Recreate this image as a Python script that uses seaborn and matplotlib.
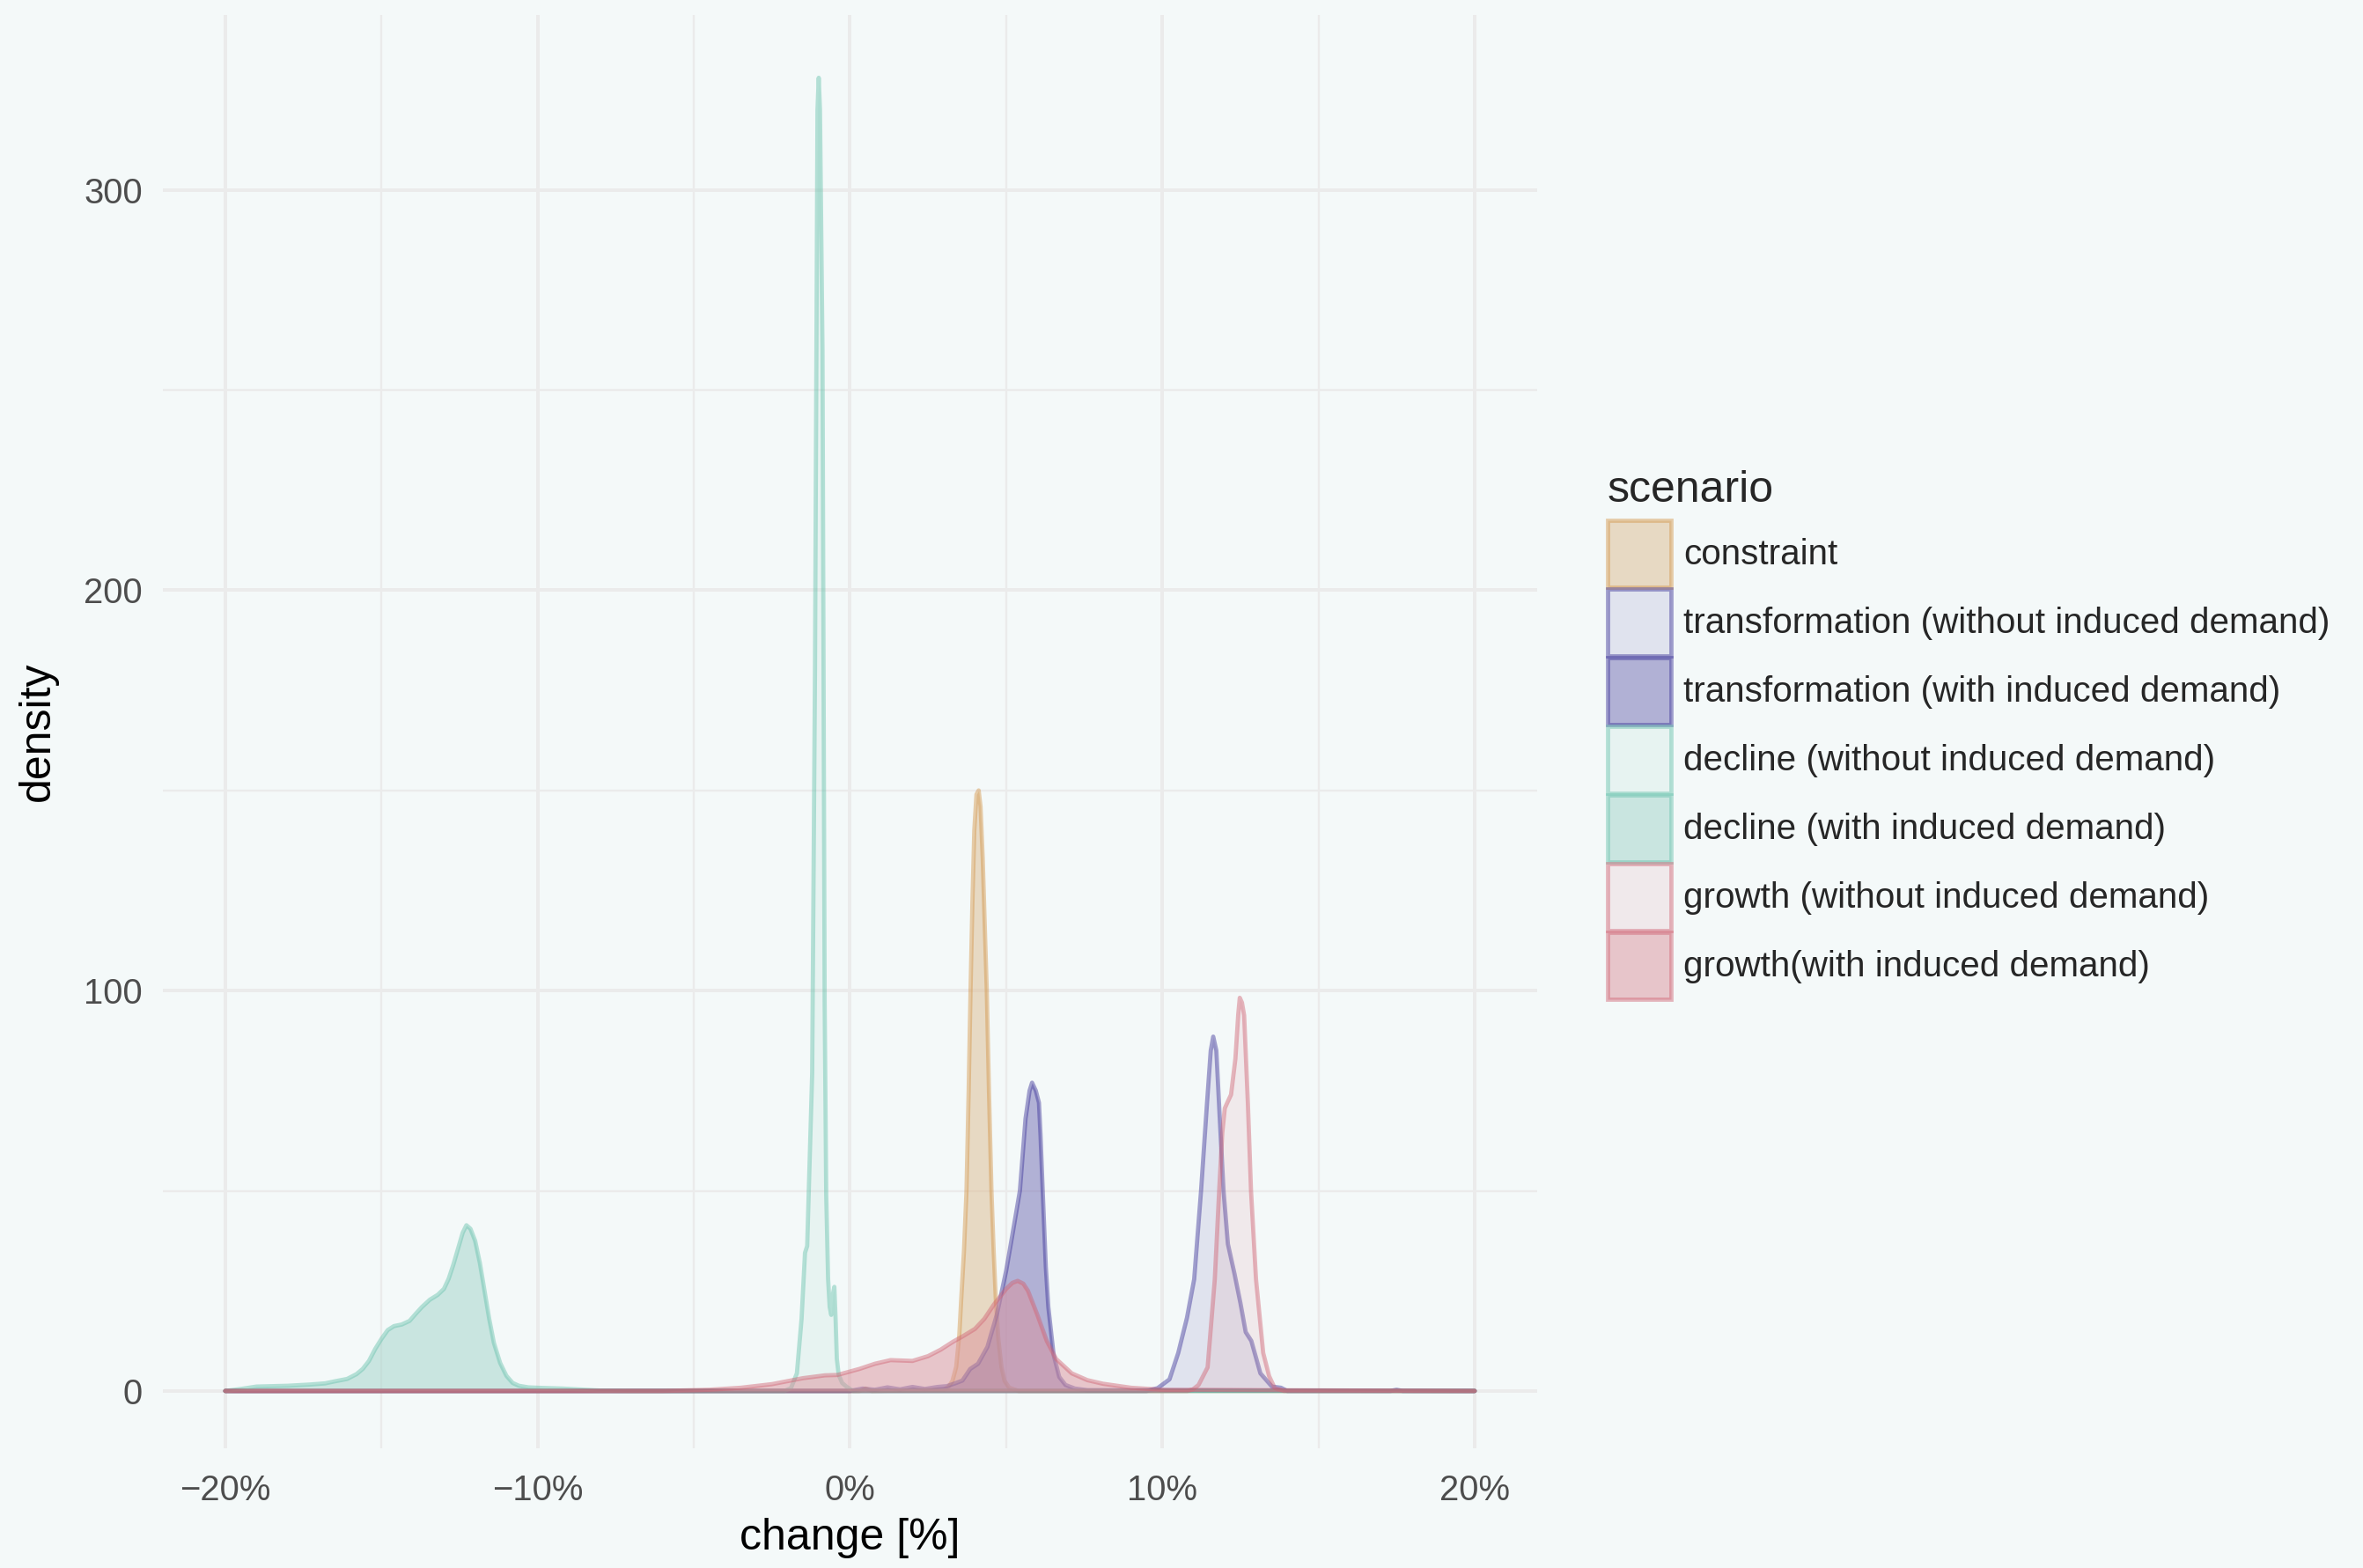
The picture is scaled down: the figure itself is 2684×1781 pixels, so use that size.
import numpy as np
import pandas as pd
import matplotlib
matplotlib.use("Agg")
import matplotlib.pyplot as plt
from matplotlib.patches import Patch
from matplotlib.colors import to_rgba
from matplotlib.ticker import MultipleLocator, FuncFormatter
import seaborn as sns

# --- data (change in %, density) ---
scenarios = [
    "constraint",
    "transformation (without induced demand)",
    "transformation (with induced demand)",
    "decline (without induced demand)",
    "decline (with induced demand)",
    "growth (without induced demand)",
    "growth(with induced demand)",
]

constraint_x = [-20, 0.3, 0.5, 0.7, 3.0, 3.15, 3.28, 3.4, 3.5, 3.56, 3.65, 3.73, 3.8, 3.86, 3.92, 3.98, 4.05, 4.12, 4.18, 4.25,
                4.32, 4.38, 4.45, 4.53, 4.6, 4.67, 4.75, 4.85, 4.95, 5.1, 5.4, 20]
constraint_y = [0, 0, 0.6, 0, 0.3, 1.0, 2.5, 6, 14, 22.7, 35, 50, 75, 100, 122, 140, 149, 150, 146, 133,
                115, 100, 75, 50, 35, 22.7, 13, 6, 2.5, 0.8, 0, 0]

trans_wo_x = [-20, 9.5, 9.85, 10.23, 10.51, 10.79, 11.02, 11.24, 11.43, 11.55, 11.63, 11.73, 11.84, 11.96, 12.1, 12.31,
              12.5, 12.67, 12.85, 13.14, 13.51, 13.8, 14.0, 17.3, 17.5, 17.7, 20]
trans_wo_y = [0, 0, 0.7, 2.9, 9.5, 18.3, 27.9, 50, 71.8, 85, 88.5, 85, 68, 50, 36.7, 29.3,
              22, 14.7, 12.5, 4.4, 1.1, 0.8, 0, 0, 0.3, 0, 0]

trans_w_x = [-20, 0.0, 0.4, 0.8, 1.2, 1.6, 2.0, 2.4, 2.8, 3.1, 3.4, 3.6, 3.85, 4.1, 4.4, 4.7, 5.0, 5.2, 5.44, 5.62, 5.75,
             5.83, 5.95, 6.05, 6.1, 6.17, 6.27, 6.35, 6.52, 6.7, 6.9, 7.2, 7.6, 20]
trans_w_y = [0, 0, 0.6, 0.3, 0.9, 0.4, 1.0, 0.5, 1.0, 1.2, 2.0, 2.6, 5.5, 6.8, 11, 19, 30, 39, 50, 68, 75,
             77, 75, 72, 64, 50, 31, 21, 9, 3.5, 1.5, 0.6, 0.2, 0]

decline_wo_x = [-20, -2.1, -1.89, -1.70, -1.55, -1.44, -1.37, -1.30, -1.21, -1.12, -1.04, -1.0, -0.96, -0.88, -0.81, -0.76,
                -0.70, -0.65, -0.60, -0.55, -0.50, -0.46, -0.42, -0.36, -0.25, -0.1, 0.1, 20]
decline_wo_y = [0, 0, 0.7, 4.4, 18, 34.5, 36.2, 55, 79.4, 180, 320, 328, 320, 260, 97, 49,
                28, 21, 19, 24, 26, 18, 8, 4, 2, 1, 0, 0]

decline_w_x = [-20, -19.5, -19.0, -18.0, -17.3, -16.8, -16.5, -16.1, -15.8, -15.6, -15.4, -15.2, -15.0, -14.8, -14.6,
               -14.35, -14.1, -13.9, -13.7, -13.45, -13.2, -13.0, -12.85, -12.7, -12.55, -12.4, -12.28, -12.15, -12.0,
               -11.85, -11.7, -11.55, -11.4, -11.2, -11.0, -10.8, -10.6, -10.3, -10.0, -9.2, -8.0, -7.0, 20]
decline_w_y = [0, 0.5, 1.1, 1.3, 1.6, 1.9, 2.4, 3.0, 4.2, 5.5, 7.5, 10.5, 13, 15.2, 16.2,
               16.6, 17.5, 19.3, 21, 22.8, 24, 25.5, 28, 31.5, 35.5, 39.5, 41.4, 40.5, 37.5,
               32, 25, 18, 12, 7, 3.8, 2.0, 1.3, 0.9, 0.8, 0.6, 0.1, 0, 0]

growth_wo_x = [-20, 10.8, 10.98, 11.16, 11.45, 11.68, 11.82, 11.92, 12.0, 12.08, 12.2, 12.34, 12.43, 12.48, 12.55, 12.62,
               12.74, 12.84, 13.0, 13.23, 13.42, 13.6, 13.9, 20]
growth_wo_y = [0, 0, 0.4, 1.5, 5.9, 27.9, 50, 64.5, 70.6, 72, 74, 83, 94, 98.2, 97, 93.8,
               71.8, 50, 27.9, 9.5, 3.7, 0.7, 0, 0]

growth_w_x = [-20, -6, -4.5, -3.5, -2.5, -1.5, -0.8, -0.4, 0.3, 0.8, 1.3, 2.0, 2.5, 2.9, 3.3, 3.6, 4.0, 4.3, 4.6, 5.0,
              5.2, 5.37, 5.55, 5.7, 6.0, 6.3, 6.6, 7.1, 7.6, 8.1, 9.0, 10, 20]
growth_w_y = [0, 0, 0.3, 0.8, 1.7, 3.2, 3.9, 4.0, 5.5, 6.8, 7.7, 7.5, 8.7, 10.3, 12.3, 13.6, 15.5, 18, 21.5, 25.5,
              27, 27.5, 26.8, 25, 19, 12.5, 8, 4.4, 2.7, 1.8, 0.8, 0.3, 0]

curves = [
    (constraint_x, constraint_y),
    (trans_wo_x, trans_wo_y),
    (trans_w_x, trans_w_y),
    (decline_wo_x, decline_wo_y),
    (decline_w_x, decline_w_y),
    (growth_wo_x, growth_wo_y),
    (growth_w_x, growth_w_y),
]

x_ticks = [-20, -10, 0, 10, 20]
y_ticks = [0, 100, 200, 300]

fill_colors = ["#DCBB8F", "#706BB3", "#706BB3", "#A0D3C9", "#A0D3C9", "#DC939D", "#DC939D"]
line_colors = ["#D39345", "#392F97", "#392F97", "#64C1AB", "#64C1AB", "#D06071", "#D06071"]
fill_alpha = [0.5, 0.15, 0.5, 0.15, 0.5, 0.15, 0.5]
line_alpha = 0.45
lw = 1.15

df = pd.concat(
    [pd.DataFrame({"change": cx, "density": cy, "scenario": name})
     for name, (cx, cy) in zip(scenarios, curves)],
    ignore_index=True,
)

bg = "#F4F9F9"
sns.set_theme(style="white")
plt.rcParams["font.family"] = ["Liberation Sans", "DejaVu Sans"]
plt.rcParams["axes.facecolor"] = bg
plt.rcParams["figure.facecolor"] = bg

fig = plt.figure(figsize=(2684 / 300, 1781 / 300), dpi=300)
ax = fig.add_axes([0.0689, 0.0764, 0.5816, 0.9141])

for i, name in enumerate(scenarios):
    sub = df[df["scenario"] == name]
    ax.fill_between(sub["change"], sub["density"], color=fill_colors[i],
                    alpha=fill_alpha[i], lw=0, zorder=2 + i)
    sns.lineplot(data=sub, x="change", y="density", color=line_colors[i],
                 alpha=line_alpha, lw=lw, sort=False, estimator=None,
                 ax=ax, legend=False, zorder=2.5 + i)

ax.set_xlim(-22, 22)
ax.set_ylim(-14.3, 343.7)
ax.set_xticks(x_ticks)
ax.set_yticks(y_ticks)
ax.xaxis.set_minor_locator(MultipleLocator(5))
ax.yaxis.set_minor_locator(MultipleLocator(50))
ax.xaxis.set_major_formatter(FuncFormatter(lambda v, p: f"{int(v)}%".replace("-", "\u2212")))
ax.grid(which="major", color="#EBEBEB", lw=0.95, zorder=0)
ax.grid(which="minor", color="#EBEBEB", lw=0.55, zorder=0)
ax.set_axisbelow(True)
for s in ax.spines.values():
    s.set_visible(False)
ax.tick_params(which="both", length=0, labelsize=9.6, labelcolor="#4D4D4D")
ax.tick_params(axis="x", pad=7)
ax.tick_params(axis="y", pad=5.5)

ax.set_xlabel("change [%]", fontsize=12, color="black", va="center")
ax.set_ylabel("density", fontsize=12, color="black", va="center")
ax.xaxis.set_label_coords(0.5, -0.0625)
ax.yaxis.set_label_coords(-0.091, 0.5)

handles = [
    Patch(facecolor=to_rgba(fill_colors[i], fill_alpha[i]),
          edgecolor=to_rgba(line_colors[i], line_alpha), linewidth=lw, label=name)
    for i, name in enumerate(scenarios)
]
leg = fig.legend(handles=handles, loc="upper left", bbox_to_anchor=(0.6803, 0.7002),
                 frameon=False, title="scenario", title_fontsize=12, fontsize=9.7,
                 handlelength=1.78, handleheight=2.515, labelspacing=0.05,
                 handletextpad=0.35, borderpad=0, borderaxespad=0, alignment="left")
leg._legend_box.sep = 2.6

fig.savefig("out.png", dpi=300, facecolor=bg)
